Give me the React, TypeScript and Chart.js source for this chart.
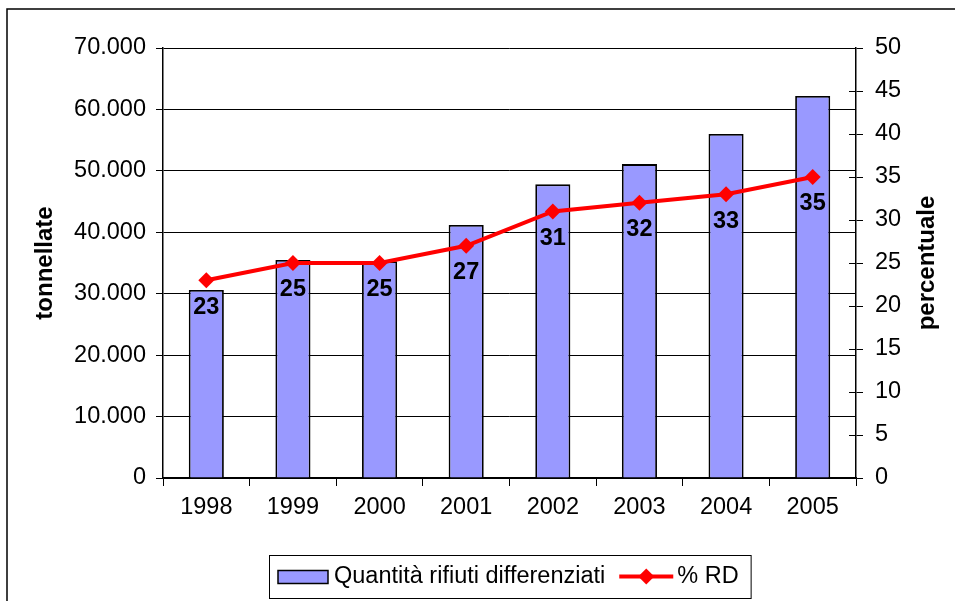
import { useEffect, useRef } from "react";
import { Chart, registerables } from "chart.js";

Chart.register(...registerables);

const years = ["1998", "1999", "2000", "2001", "2002", "2003", "2004", "2005"];
const tonnellate = [30600, 35500, 35300, 41200, 47800, 51100, 56000, 62200];
const percentuale = [23, 25, 25, 27, 31, 32, 33, 35];
const barLabel = "Quantità rifiuti differenziati";
const lineLabel = "% RD";
const leftTitle = "tonnellate";
const rightTitle = "percentuale";

const FONT = "'Liberation Sans', Arial, sans-serif";
const BAR_COLOR = "#9999FF";
const LINE_COLOR = "#FF0000";
const FS = 23.5;

function fmtThousands(v: number): string {
  return String(Math.round(v)).replace(/\B(?=(\d{3})+(?!\d))/g, ".");
}

const decorPlugin = {
  id: "decor",
  afterDraw(chart: any) {
    const ctx = chart.ctx as CanvasRenderingContext2D;
    const area = chart.chartArea;
    ctx.save();

    // outer frame
    ctx.strokeStyle = "#000";
    ctx.lineWidth = 1.5;
    ctx.strokeRect(7, 9, 2000, 2000);

    // inner ticks on right axis
    const y2 = chart.scales.y2;
    ctx.lineWidth = 1;
    ctx.beginPath();
    y2.ticks.forEach((t: any) => {
      const yy = Math.round(y2.getPixelForValue(t.value)) + 0.5;
      ctx.moveTo(area.right - 7, yy);
      ctx.lineTo(area.right, yy);
    });
    ctx.stroke();

    // data labels for the line
    const meta = chart.getDatasetMeta(1);
    ctx.fillStyle = "#000";
    ctx.font = `bold ${FS}px ${FONT}`;
    ctx.textAlign = "center";
    ctx.textBaseline = "middle";
    meta.data.forEach((el: any, i: number) => {
      ctx.fillText(String(percentuale[i]), el.x, el.y + 27);
    });

    // axis titles
    const midY = (area.top + area.bottom) / 2;
    ctx.font = `bold 24px ${FONT}`;
    ctx.save();
    ctx.translate(45, midY);
    ctx.rotate(-Math.PI / 2);
    ctx.fillText(leftTitle, 0, 0);
    ctx.restore();
    ctx.save();
    ctx.translate(927, midY);
    ctx.rotate(-Math.PI / 2);
    ctx.fillText(rightTitle, 0, 0);
    ctx.restore();

    // legend
    const lx = 269;
    const ly = 555;
    const lh = 43;
    const cy = ly + lh / 2;
    ctx.font = `${FS}px ${FONT}`;
    const w1 = ctx.measureText(barLabel).width;
    const w2 = ctx.measureText(lineLabel).width;
    const swX = lx + 9;
    const txt1 = swX + 50 + 6;
    const lineX0 = txt1 + w1 + 14;
    const txt2 = lineX0 + 54 + 4;
    const lw = txt2 + w2 + 12 - lx;
    ctx.lineWidth = 1;
    ctx.strokeStyle = "#000";
    ctx.strokeRect(lx + 0.5, ly + 0.5, lw, lh);
    ctx.fillStyle = BAR_COLOR;
    ctx.fillRect(swX, cy - 6, 50, 13);
    ctx.lineWidth = 1.5;
    ctx.strokeRect(swX, cy - 6, 50, 13);
    ctx.fillStyle = "#000";
    ctx.textAlign = "left";
    ctx.textBaseline = "middle";
    ctx.fillText(barLabel, txt1, cy);
    ctx.fillText(lineLabel, txt2, cy);
    ctx.strokeStyle = LINE_COLOR;
    ctx.lineWidth = 4;
    ctx.beginPath();
    ctx.moveTo(lineX0, cy);
    ctx.lineTo(lineX0 + 54, cy);
    ctx.stroke();
    ctx.fillStyle = LINE_COLOR;
    const dx = lineX0 + 27;
    ctx.beginPath();
    ctx.moveTo(dx, cy - 8);
    ctx.lineTo(dx + 8, cy);
    ctx.lineTo(dx, cy + 8);
    ctx.lineTo(dx - 8, cy);
    ctx.closePath();
    ctx.fill();

    ctx.restore();
  },
};

export default function App() {
  const ref = useRef<HTMLCanvasElement | null>(null);

  useEffect(() => {
    if (!ref.current) return;
    Chart.defaults.font.family = FONT;
    const chart = new Chart(ref.current, {
      type: "bar",
      data: {
        labels: years,
        datasets: [
          {
            type: "bar",
            label: barLabel,
            data: tonnellate,
            backgroundColor: BAR_COLOR,
            borderColor: "#000",
            borderWidth: 1.8,
            barPercentage: 0.405,
            categoryPercentage: 1,
            yAxisID: "y",
            order: 2,
          },
          {
            type: "line",
            label: lineLabel,
            data: percentuale,
            borderColor: LINE_COLOR,
            backgroundColor: LINE_COLOR,
            borderWidth: 4,
            pointStyle: "rectRot",
            pointRadius: 8,
            pointBorderWidth: 0,
            tension: 0,
            yAxisID: "y2",
            order: 1,
          } as any,
        ],
      },
      options: {
        animation: false,
        responsive: false,
        events: [],
        layout: { padding: { top: 48, bottom: 63, left: 0, right: 0 } },
        plugins: {
          legend: { display: false },
          tooltip: { enabled: false },
          title: { display: false },
        },
        scales: {
          x: {
            grid: {
              offset: true,
              drawOnChartArea: false,
              tickLength: 8,
              color: "#000",
            },
            border: { color: "#000", width: 1.5 },
            ticks: { color: "#000", font: { size: FS }, padding: 7, maxRotation: 0 },
            afterFit: (s: any) => {
              s.height = 60;
            },
          },
          y: {
            position: "left",
            min: 0,
            max: 70000,
            grid: { color: "#000", tickLength: 7, lineWidth: 1 },
            border: { color: "#000", width: 1.5 },
            ticks: {
              stepSize: 10000,
              color: "#000",
              font: { size: FS },
              padding: 10,
              callback: (v: any) => fmtThousands(Number(v)),
            },
            afterFit: (s: any) => {
              s.width = 163;
            },
          },
          y2: {
            position: "right",
            min: 0,
            max: 50,
            grid: { drawOnChartArea: false, color: "#000", tickLength: 7 },
            border: { color: "#000", width: 1.5 },
            ticks: { stepSize: 5, color: "#000", font: { size: FS }, padding: 12 },
            afterFit: (s: any) => {
              s.width = 99;
            },
          },
        },
      },
      plugins: [decorPlugin],
    });
    return () => chart.destroy();
  }, []);

  return (
    <div style={{ position: "absolute", left: 0, top: 0, width: 955, height: 601, background: "#fff" }}>
      <canvas ref={ref} width={955} height={601} style={{ display: "block", width: 955, height: 601 }} />
    </div>
  );
}
